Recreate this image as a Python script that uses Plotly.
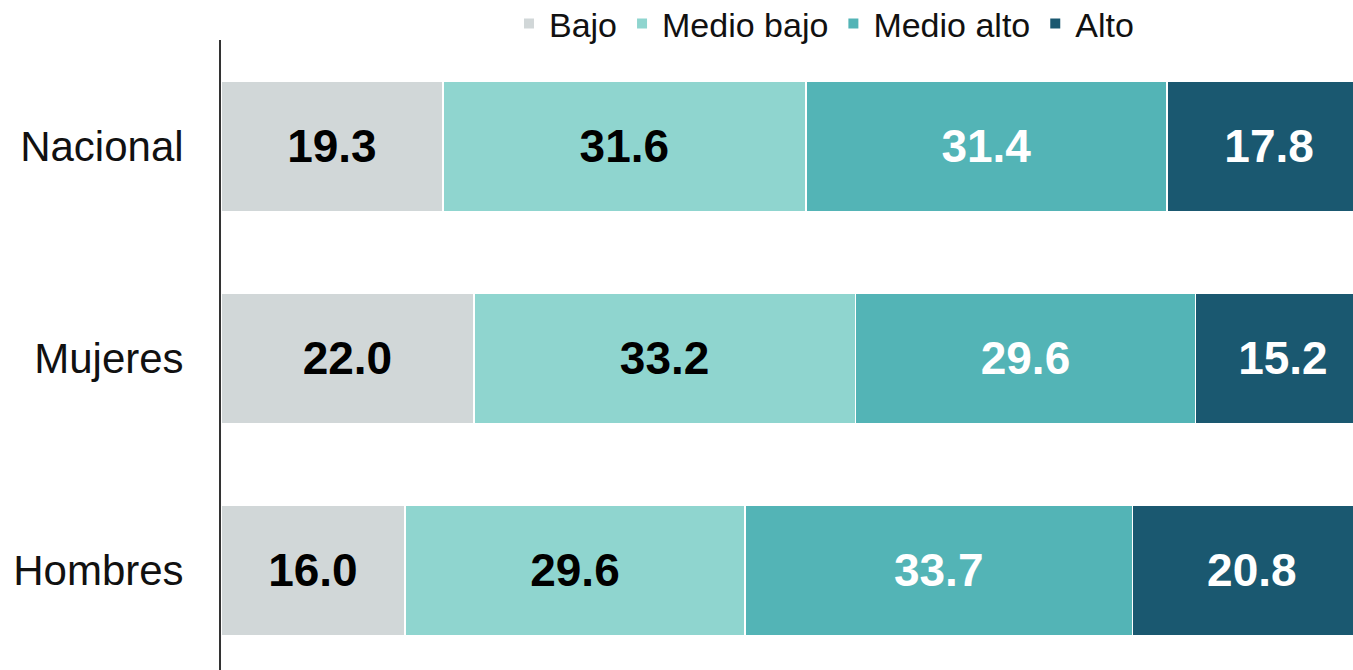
import plotly.graph_objects as go

categories = ["Nacional", "Mujeres", "Hombres"]
bajo = [19.3, 22.0, 16.0]
medio_bajo = [31.6, 33.2, 29.6]
medio_alto = [31.4, 29.6, 33.7]
alto = [17.8, 15.2, 20.8]

series = [
    ("Bajo", bajo, "#D1D7D8", "#000000"),
    ("Medio bajo", medio_bajo, "#8FD5CF", "#000000"),
    ("Medio alto", medio_alto, "#53B4B6", "#FFFFFF"),
    ("Alto", alto, "#1A5870", "#FFFFFF"),
]

FONT = "Arial, Liberation Sans, sans-serif"

fig = go.Figure()
for name, vals, color, tcolor in series:
    fig.add_trace(go.Bar(
        y=categories, x=vals, name=name, orientation="h",
        marker=dict(color=color, line=dict(color="white", width=1.5)),
        text=[f"{v:.1f}" for v in vals], textposition="inside",
        insidetextanchor="middle",
        textfont=dict(family=FONT, size=46, color=tcolor, weight="bold"),
        width=0.615,
    ))

fig.update_layout(
    barmode="stack",
    width=1353, height=670,
    margin=dict(l=221, r=0, t=40, b=0, autoexpand=False),
    paper_bgcolor="white", plot_bgcolor="white",
    font=dict(family=FONT, color="#111111"),
    showlegend=True,
    legend=dict(orientation="h", xref="container", yref="container",
                x=0.609, xanchor="center", y=1 - 24 / 670, yanchor="middle",
                font=dict(size=34, color="#111111"), itemsizing="constant",
                traceorder="normal", itemwidth=30),
    xaxis=dict(range=[0, 98.5], showgrid=False, zeroline=False,
               showticklabels=False, showline=False, fixedrange=True),
    yaxis=dict(range=[2.47, -0.5], showgrid=False, zeroline=False,
               showline=True, linecolor="#333333", linewidth=2,
               tickfont=dict(size=42, color="#111111", family=FONT),
               ticklabelstandoff=27, type="category", fixedrange=True),
    uniformtext=dict(mode="show", minsize=10),
)

fig.write_html(
    "out.html",
    config={"displayModeBar": False},
    post_script="document.body.style.margin='0';document.body.style.overflow='hidden';",
)
